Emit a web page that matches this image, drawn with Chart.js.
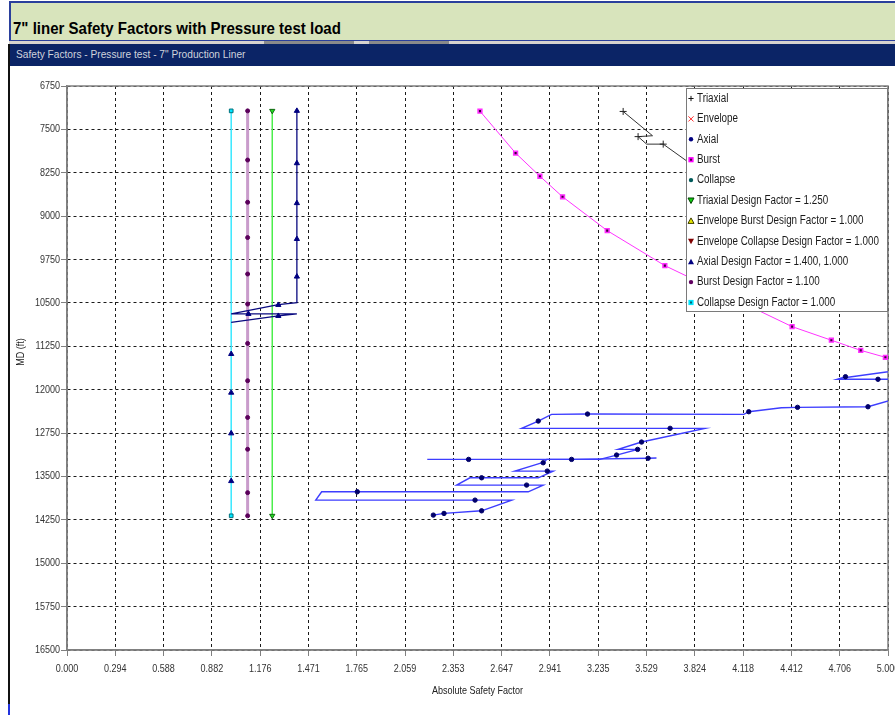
<!DOCTYPE html>
<html>
<head>
<meta charset="utf-8">
<script src="https://cdn.jsdelivr.net/npm/chart.js@4.4.1/dist/chart.umd.min.js"></script>
<style>
  html, body { margin: 0; padding: 0; background: #fff; width: 895px; height: 715px; overflow: hidden; }
  #wrap { position: relative; width: 895px; height: 715px; }
  #chart { position: absolute; left: 0; top: 0; z-index: 0; }
  .band { position: absolute; left: 9px; top: 1px; width: 886px; height: 37px; background: #d8e4bc;
          border-top: 2px solid #2a3f9c; border-left: 2px solid #2a3f9c; border-bottom: 2px solid #2a3f9c; z-index: 2; }
  .band span { position: absolute; left: 2px; top: 16px; font: bold 17px "Liberation Sans", Arial, sans-serif;
               color: #000; white-space: nowrap; transform-origin: 0 50%; }
  .strip { position: absolute; left: 9px; top: 41px; width: 886px; height: 3px; background: #d6d3ce; z-index: 2; }
  .strip i { position: absolute; top: 0; height: 3px; background: #8a8a8a; }
  .bar { position: absolute; left: 10px; top: 44px; width: 885px; height: 22px; background: #0b2466; z-index: 2; }
  .bar span { position: absolute; left: 6px; top: 4px; font: 11px "Liberation Sans", Arial, sans-serif;
              color: #cfd3dc; white-space: nowrap; transform-origin: 0 50%; }
  .frame { position: absolute; left: 8px; top: 44px; width: 2px; height: 660px; background: #111; z-index: 2; }
  .frame2 { position: absolute; left: 8px; top: 704px; width: 2px; height: 11px; background: #2233dd; z-index: 2; }
</style>
</head>
<body>
<div id="wrap">
  <canvas id="chart" width="895" height="715"></canvas>
  <div class="band"><span id="mainTitle">7" liner Safety Factors with Pressure test load</span></div>
  <div class="strip"><i style="left:255px;width:90px"></i><i style="left:360px;width:80px"></i></div>
  <div class="bar"><span id="subTitle">Safety Factors - Pressure test - 7" Production Liner</span></div>
  <div class="frame"></div>
  <div class="frame2"></div>
</div>
<script>
// ---- axis ticks ----
const xTickLabels = ['0.000','0.294','0.588','0.882','1.176','1.471','1.765','2.059','2.353','2.647',
                     '2.941','3.235','3.529','3.824','4.118','4.412','4.706','5.000'];
const xMax = 5;
const mdTicks = [6750, 7500, 8250, 9000, 9750, 10500, 11250, 12000, 12750, 13500, 14250, 15000, 15750, 16500];
const xTitle = 'Absolute Safety Factor';
const yTitle = 'MD (ft)';

// ---- design factor lines (liner 7180 - 14180 ft MD) ----
const collapseDF = [{x: 1.0, y: 7180}, {x: 1.0, y: 14180}];
const triaxialDF = [{x: 1.25, y: 7180}, {x: 1.25, y: 14180}];
const burstDFLine = [{x: 1.1, y: 7180}, {x: 1.1, y: 14180}];
const burstDFMarks = [7180, 8030, 8760, 9370, 10000, 10520, 11200, 11845, 12480, 13030, 13780, 14180];
const axialDFPath = [
  {x: 1.4, y: 7180}, {x: 1.4, y: 10495}, {x: 1.287, y: 10530}, {x: 1.0, y: 10690},
  {x: 1.105, y: 10690}, {x: 1.4, y: 10690}, {x: 1.287, y: 10725}, {x: 1.0, y: 10835}
];
const axialDFMarks = [
  {x: 1.4, y: 7180}, {x: 1.4, y: 8085}, {x: 1.4, y: 8775}, {x: 1.4, y: 9395}, {x: 1.4, y: 10045},
  {x: 1.287, y: 10535}, {x: 1.105, y: 10690}, {x: 1.287, y: 10725},
  {x: 1.0, y: 11383}, {x: 1.0, y: 12052}, {x: 1.0, y: 12755}, {x: 1.0, y: 13580}
];

// ---- burst safety factor ----
const burstSF = [
  {x: 2.515, y: 7185}, {x: 2.732, y: 7910}, {x: 2.880, y: 8310}, {x: 3.018, y: 8665}, {x: 3.290, y: 9250},
  {x: 3.641, y: 9855}, {x: 4.416, y: 10910}, {x: 4.655, y: 11145}, {x: 4.834, y: 11320}, {x: 4.984, y: 11440}
];

// ---- triaxial safety factor ----
const triaxialSF = [
  {x: 3.387, y: 7190}, {x: 3.566, y: 7610}, {x: 3.478, y: 7625}, {x: 3.530, y: 7755},
  {x: 3.631, y: 7755}, {x: 3.781, y: 8060}
];
const triaxialMarks = [{x: 3.387, y: 7190}, {x: 3.478, y: 7625}, {x: 3.631, y: 7755}];

// ---- axial safety factor (three runs) ----
const axialRun1 = [
  {x: 5.25, y: 11590}, {x: 4.757, y: 11786}, {x: 4.741, y: 11776}, {x: 4.690, y: 11820},
  {x: 4.939, y: 11820}, {x: 5.25, y: 11820}
];
const axialRun2 = [
  {x: 5.25, y: 11990}, {x: 4.878, y: 12295}, {x: 4.449, y: 12305}, {x: 4.351, y: 12312},
  {x: 4.152, y: 12381}, {x: 4.122, y: 12426}, {x: 3.170, y: 12421}, {x: 2.951, y: 12426},
  {x: 2.870, y: 12542}, {x: 2.769, y: 12668}, {x: 3.673, y: 12668}, {x: 3.884, y: 12668},
  {x: 3.499, y: 12905}, {x: 3.357, y: 13032}, {x: 3.475, y: 13032}, {x: 3.347, y: 13130},
  {x: 3.245, y: 13205}, {x: 2.446, y: 13205}, {x: 2.194, y: 13205}
];
const axialRun3 = [
  {x: 3.590, y: 13180}, {x: 3.539, y: 13185}, {x: 3.073, y: 13205}, {x: 2.921, y: 13205},
  {x: 2.900, y: 13263}, {x: 2.880, y: 13274}, {x: 2.728, y: 13407}, {x: 2.925, y: 13407},
  {x: 2.961, y: 13407}, {x: 2.870, y: 13523}, {x: 2.525, y: 13523}, {x: 2.454, y: 13523},
  {x: 2.373, y: 13649}, {x: 2.799, y: 13649}, {x: 2.900, y: 13649}, {x: 2.809, y: 13765},
  {x: 1.768, y: 13765}, {x: 1.551, y: 13765}, {x: 1.515, y: 13909}, {x: 2.485, y: 13909},
  {x: 2.708, y: 13909}, {x: 2.525, y: 14094}, {x: 2.296, y: 14139}, {x: 2.231, y: 14168}
];
const axialMarks = [
  {x: 4.741, y: 11776}, {x: 4.939, y: 11820},
  {x: 4.878, y: 12295}, {x: 4.449, y: 12305}, {x: 4.152, y: 12381}, {x: 3.170, y: 12421},
  {x: 2.870, y: 12542}, {x: 3.673, y: 12668}, {x: 3.499, y: 12905}, {x: 3.475, y: 13032},
  {x: 3.347, y: 13130}, {x: 2.446, y: 13205},
  {x: 3.539, y: 13185}, {x: 3.073, y: 13205}, {x: 2.900, y: 13263}, {x: 2.925, y: 13407},
  {x: 2.525, y: 13523}, {x: 2.799, y: 13649}, {x: 1.768, y: 13765}, {x: 2.485, y: 13909},
  {x: 2.525, y: 14094}, {x: 2.296, y: 14139}, {x: 2.231, y: 14168}
];

// ---- legend ----
const legendLabels = [
  'Triaxial', 'Envelope', 'Axial', 'Burst', 'Collapse',
  'Triaxial Design Factor = 1.250', 'Envelope Burst Design Factor = 1.000',
  'Envelope Collapse Design Factor = 1.000', 'Axial Design Factor = 1.400, 1.000',
  'Burst Design Factor = 1.100', 'Collapse Design Factor = 1.000'
];
const legendMarkers = [
  {shape: 'plus', color: '#111'}, {shape: 'x', color: '#ff3030'}, {shape: 'dot', color: '#000080'},
  {shape: 'square', color: '#ff00ff', inner: '#400040'}, {shape: 'dot', color: '#005a5a'},
  {shape: 'triDown', color: '#10d010', inner: '#004000'}, {shape: 'triUp', color: '#e6e600', inner: '#404000'},
  {shape: 'triDown', color: '#800000'}, {shape: 'triUp', color: '#000080'},
  {shape: 'dot', color: '#600060'}, {shape: 'square', color: '#00e5ff', inner: '#006070'}
];

const FONT = '"Liberation Sans", Arial, sans-serif';
const NARROW = 0.82;   // horizontal squeeze for the narrow label face

function line(data, color, width) {
  return {data, showLine: true, borderColor: color, borderWidth: width, pointRadius: 0, tension: 0, fill: false};
}
function marks(data, style, radius, fill, stroke, extra) {
  return Object.assign({data, showLine: false, pointStyle: style, pointRadius: radius,
    backgroundColor: fill, borderColor: stroke, borderWidth: 1}, extra || {});
}

// first dataset is drawn on top
const datasets = [
  marks(axialMarks, 'circle', 2.2, '#00006a', '#00006a'),
  line(axialRun1, '#3d3dff', 1.4),
  line(axialRun2, '#3d3dff', 1.4),
  line(axialRun3, '#3d3dff', 1.4),
  marks(burstSF, 'rect', 2.6, '#3a003a', '#ff2cff', {borderWidth: 1.6}),
  line(burstSF, '#ff33ff', 1),
  marks(triaxialMarks, 'cross', 3.5, '#222', '#222'),
  line(triaxialSF, '#333', 1),
  marks(axialDFMarks, 'triangle', 3, '#000080', '#000080'),
  marks(burstDFMarks.map(d => ({x: 1.1, y: d})), 'circle', 2, '#5a005a', '#5a005a'),
  marks(collapseDF, 'rect', 2.6, '#00e5ff', '#00707a'),
  marks(triaxialDF, 'triangle', 3, '#22dd22', '#116611', {rotation: 180}),
  line(axialDFPath, '#0a0a80', 1.3),
  line(collapseDF, '#38e8ff', 1.5),
  line(triaxialDF, '#4cee4c', 1.5),
  line(burstDFLine, '#c99ccb', 3)
];

function narrowText(ctx, text, x, y, align) {
  ctx.save();
  ctx.translate(x, y);
  ctx.scale(NARROW, 1);
  ctx.textAlign = align;
  ctx.textBaseline = 'middle';
  ctx.fillText(text, 0, 0);
  ctx.restore();
}

// chart area outline
const frameBox = {
  id: 'frameBox',
  beforeDatasetsDraw(chart) {
    const {ctx, chartArea: a} = chart;
    ctx.save();
    ctx.strokeStyle = '#808080';
    ctx.lineWidth = 1.5;
    ctx.strokeRect(a.left, a.top, a.right - a.left, a.bottom - a.top);
    ctx.restore();
  }
};

// tick labels and axis titles in a narrow face, placed by the scales
const axisText = {
  id: 'axisText',
  afterDraw(chart) {
    const {ctx, chartArea: a, scales: {x, y}} = chart;
    ctx.save();
    ctx.font = '11px ' + FONT;
    ctx.fillStyle = '#333';
    x.ticks.forEach((t, i) => narrowText(ctx, xTickLabels[i], x.getPixelForValue(t.value), a.bottom + 19, 'center'));
    y.ticks.forEach(t => narrowText(ctx, String(t.value), a.left - 7, y.getPixelForValue(t.value), 'right'));
    ctx.fillStyle = '#222';
    narrowText(ctx, xTitle, (a.left + a.right) / 2, a.bottom + 41, 'center');
    ctx.translate(21, 352);
    ctx.rotate(-Math.PI / 2);
    narrowText(ctx, yTitle, 0, 0, 'center');
    ctx.restore();
  }
};

function drawMarker(ctx, m, x, y) {
  const r = 2.6;
  ctx.save();
  ctx.fillStyle = m.color;
  ctx.strokeStyle = m.color;
  ctx.lineWidth = 1;
  ctx.beginPath();
  if (m.shape === 'plus') {
    ctx.moveTo(x - r, y); ctx.lineTo(x + r, y); ctx.moveTo(x, y - r); ctx.lineTo(x, y + r); ctx.stroke();
  } else if (m.shape === 'x') {
    ctx.moveTo(x - r, y - r); ctx.lineTo(x + r, y + r); ctx.moveTo(x + r, y - r); ctx.lineTo(x - r, y + r); ctx.stroke();
  } else if (m.shape === 'dot') {
    ctx.arc(x, y, 2.2, 0, Math.PI * 2); ctx.fill();
  } else if (m.shape === 'square') {
    ctx.fillRect(x - r, y - r, 2 * r, 2 * r);
    if (m.inner) { ctx.fillStyle = m.inner; ctx.fillRect(x - 1, y - 1, 2, 2); }
  } else if (m.shape === 'triUp' || m.shape === 'triDown') {
    const s = m.shape === 'triUp' ? 1 : -1;
    ctx.moveTo(x, y - s * 3); ctx.lineTo(x + 3, y + s * 2.5); ctx.lineTo(x - 3, y + s * 2.5); ctx.closePath(); ctx.fill();
    if (m.inner) { ctx.strokeStyle = m.inner; ctx.stroke(); }
  }
  ctx.restore();
}

// legend box in the upper right corner of the plot
const cornerLegend = {
  id: 'cornerLegend',
  afterDatasetsDraw(chart) {
    const {ctx, chartArea: a} = chart;
    const w = 202, h = 224;
    const left = a.right - w, top = a.top + 2;
    ctx.save();
    ctx.fillStyle = '#fff';
    ctx.fillRect(left, top, w, h);
    ctx.strokeStyle = '#7a7a7a';
    ctx.lineWidth = 1;
    ctx.strokeRect(left + 0.5, top + 0.5, w - 1, h - 1);
    ctx.font = '12px ' + FONT;
    legendLabels.forEach((label, i) => {
      const y = top + 10.5 + i * 20.4;
      drawMarker(ctx, legendMarkers[i], left + 5, y);
      ctx.fillStyle = '#1a1a1a';
      narrowText(ctx, label, left + 11, y, 'left');
    });
    ctx.restore();
  }
};

new Chart(document.getElementById('chart'), {
  type: 'scatter',
  data: {datasets},
  options: {
    responsive: false,
    animation: false,
    events: [],
    layout: {padding: {left: 0, right: 7, top: 86, bottom: 0}},
    plugins: {legend: {display: false}, tooltip: {enabled: false}},
    scales: {
      x: {
        type: 'linear', position: 'bottom', min: 0, max: xMax,
        afterBuildTicks: s => { s.ticks = xTickLabels.map((t, i) => ({value: i * xMax / (xTickLabels.length - 1)})); },
        afterFit: s => { s.height = 65; s.paddingLeft = 0; s.paddingRight = 0; },
        ticks: {display: false},
        grid: {color: '#1a1a1a', lineWidth: 1, tickLength: 6, tickColor: '#808080', tickWidth: 1},
        border: {display: true, color: '#808080', width: 1.5, dash: [3, 3]}
      },
      y: {
        type: 'linear', position: 'left', reverse: true, min: 6750, max: 16500,
        afterBuildTicks: s => { s.ticks = mdTicks.map(v => ({value: v})); },
        afterFit: s => { s.width = 67; s.paddingTop = 0; s.paddingBottom = 0; },
        ticks: {display: false},
        grid: {color: '#1a1a1a', lineWidth: 1, tickLength: 6, tickColor: '#808080', tickWidth: 1},
        border: {display: true, color: '#808080', width: 1.5, dash: [3, 3]}
      }
    }
  },
  plugins: [frameBox, cornerLegend, axisText]
});

// squeeze the header captions to their narrow widths
function fitWidth(id, width) {
  const el = document.getElementById(id);
  el.style.transform = 'scaleX(' + (width / el.offsetWidth) + ')';
}
fitWidth('mainTitle', 328);
fitWidth('subTitle', 229);
</script>
</body>
</html>
